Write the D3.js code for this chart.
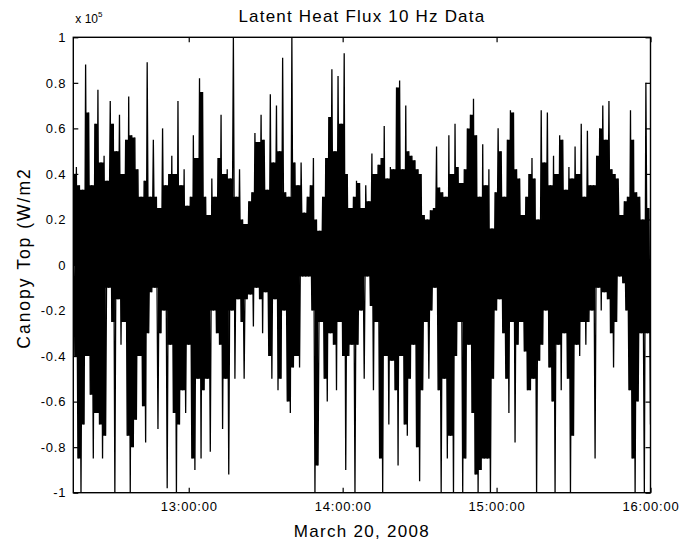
<!DOCTYPE html>
<html>
<head>
<meta charset="utf-8">
<script src="https://cdn.jsdelivr.net/npm/d3@7"></script>
<style>
  body { margin: 0; background: #fff; }
  svg { font-family: "Liberation Sans", Arial, sans-serif; }
</style>
</head>
<body>
<svg id="chart" width="683" height="546"></svg>
<script>
// Values, in units of 1e5 W/m2.
// One peak and one trough per 72 s step, starting 12:15:00.
var startTime = new Date(2008, 2, 20, 12, 15, 0);
var endTime = new Date(2008, 2, 20, 16, 0, 0);
var stepSeconds = 72;

var peakFlux = [
  0.40, 0.43, 0.35, 0.33, 0.88, 0.67, 0.35, 0.62, 0.77, 0.45,
  0.48, 0.37, 0.72, 0.62, 0.50, 0.66, 0.40, 0.55, 0.74, 0.57,
  0.56, 0.42, 0.30, 0.37, 0.89, 0.30, 0.55, 0.30, 0.25, 0.60,
  0.35, 0.40, 0.48, 0.40, 0.72, 0.35, 0.42, 0.26, 0.30, 0.57,
  0.47, 0.82, 0.76, 0.30, 0.22, 0.38, 0.30, 0.47, 0.66, 0.40,
  0.42, 0.38, 1.00, 0.30, 0.42, 0.20, 0.18, 0.28, 0.32, 0.58,
  0.54, 0.66, 0.55, 0.33, 0.75, 0.45, 0.70, 0.50, 0.91, 0.32,
  0.30, 1.00, 0.45, 0.35, 0.45, 0.23, 0.30, 0.35, 0.47, 0.20,
  0.15, 0.30, 0.47, 0.65, 0.86, 0.50, 0.83, 0.62, 0.93, 0.40,
  0.25, 0.30, 0.37, 0.36, 0.25, 0.35, 0.28, 0.49, 0.40, 0.44,
  0.47, 0.61, 0.38, 0.43, 0.42, 0.78, 0.81, 0.42, 0.70, 0.50,
  0.48, 0.46, 0.42, 0.40, 0.22, 0.20, 0.24, 0.25, 0.52, 0.34,
  0.32, 0.30, 0.57, 0.40, 0.62, 0.43, 0.36, 0.42, 0.60, 0.66,
  0.73, 0.57, 0.30, 0.53, 0.35, 0.42, 0.16, 0.32, 0.60, 0.50,
  0.30, 0.55, 0.68, 0.67, 0.42, 0.38, 0.22, 0.30, 0.40, 0.47,
  0.38, 0.20, 0.68, 0.45, 0.67, 0.35, 0.48, 0.40, 0.57, 0.55,
  0.33, 0.43, 0.38, 0.52, 0.40, 0.62, 0.30, 0.59, 0.35, 0.35,
  0.48, 0.60, 0.70, 0.55, 0.72, 0.42, 0.40, 0.38, 0.22, 0.28,
  0.30, 0.68, 0.55, 0.32, 0.30, 0.20, 0.80, 0.25
];

var troughFlux = [
  -0.40, -0.85, -1.00, -0.70, -0.40, -0.57, -0.85, -0.65, -0.70, -0.85,
  -0.75, -0.10, -0.25, -1.00, -0.15, -0.35, -0.25, -0.75, -1.00, -0.80,
  -0.68, -0.40, -0.62, -0.78, -0.30, -0.12, -0.10, -0.72, -0.30, -0.20,
  -0.98, -0.35, -0.65, -1.00, -0.70, -0.55, -0.65, -0.35, -0.85, -0.90,
  -0.50, -0.85, -0.55, -0.50, -0.82, -0.20, -0.30, -0.35, -0.72, -0.50,
  -0.92, -0.20, -0.50, -0.15, -0.25, -0.50, -0.15, -0.13, -0.27, -0.10,
  -0.15, -0.30, -0.12, -0.40, -0.50, -0.15, -0.55, -0.50, -0.20, -0.60,
  -0.65, -0.45, -0.40, -0.45, -0.05, -0.05, -0.05, -0.20, -1.00, -0.88,
  -0.25, -0.50, -0.60, -0.30, -0.35, -0.55, -0.25, -0.40, -0.90, -0.40,
  -0.35, -1.00, -0.35, -0.20, -0.50, -0.05, -0.18, -0.55, -0.25, -0.85,
  -1.00, -0.40, -0.70, -0.42, -0.55, -0.88, -0.40, -0.70, -0.75, -0.50,
  -0.35, -0.80, -0.95, -0.55, -0.25, -0.50, -0.20, -0.10, -0.55, -1.00,
  -0.50, -0.85, -0.75, -1.00, -0.40, -0.25, -1.00, -0.85, -0.35, -0.65,
  -0.92, -1.00, -0.90, -0.85, -0.85, -1.00, -0.50, -0.20, -0.15, -0.30,
  -0.50, -0.65, -0.25, -0.78, -0.35, -0.25, -0.38, -0.55, -0.55, -0.50,
  -1.00, -0.42, -0.35, -0.20, -0.45, -0.60, -1.00, -0.35, -0.55, -0.30,
  -0.50, -1.00, -0.75, -0.35, -0.40, -0.25, -0.35, -0.25, -0.20, -0.85,
  -0.10, -0.20, -0.12, -0.15, -0.30, -0.45, -0.25, -0.05, -0.08, -0.20,
  -0.55, -0.85, -1.00, -0.60, -0.30, -1.00, -0.30, -0.70
];

var xTickTimes = [
  new Date(2008, 2, 20, 13, 0, 0),
  new Date(2008, 2, 20, 14, 0, 0),
  new Date(2008, 2, 20, 15, 0, 0),
  new Date(2008, 2, 20, 16, 0, 0)
];
var yTickValues = [-1, -0.8, -0.6, -0.4, -0.2, 0, 0.2, 0.4, 0.6, 0.8, 1];

var titleText = "Latent Heat Flux 10 Hz Data";
var xLabelText = "March 20, 2008";
var yLabelText = "Canopy Top (W/m2";

var stepMs = stepSeconds * 1000;

// peak then trough every step
var samples = [];
peakFlux.forEach(function(v, i) {
  var t = startTime.getTime() + i * stepMs;
  samples.push({ t: new Date(t), v: v });
  samples.push({ t: new Date(t + stepMs / 2), v: troughFlux[i] });
});

// the dense 10 Hz trace fills in solid between neighbouring swings
var upperBody = peakFlux.map(function(v, i) {
  var next = i + 1 < peakFlux.length ? peakFlux[i + 1] : v;
  return { t: new Date(startTime.getTime() + i * stepMs), v: Math.min(v, next) };
});
var lowerBody = troughFlux.map(function(v, i) {
  var next = i + 1 < troughFlux.length ? troughFlux[i + 1] : v;
  return { t: new Date(startTime.getTime() + i * stepMs + stepMs / 2), v: Math.max(v, next) };
});

var margin = { top: 37.3, right: 32.5, bottom: 53.3, left: 73.3 },
    width = 683 - margin.left - margin.right,
    height = 546 - margin.top - margin.bottom;

var svg = d3.select("#chart");
var g = svg.append("g")
    .attr("transform", "translate(" + margin.left + "," + margin.top + ")");

var x = d3.scaleTime().domain([startTime, endTime]).range([0, width]);
var y = d3.scaleLinear().domain([-1, 1]).range([height, 0]);

g.append("clipPath").attr("id", "plotClip")
  .append("rect").attr("width", width).attr("height", height);

var plot = g.append("g").attr("clip-path", "url(#plotClip)");

var bodyArea = d3.area()
    .curve(d3.curveStepAfter)
    .x(function(d) { return x(d.t); })
    .y0(y(0))
    .y1(function(d) { return y(d.v); });

plot.append("path").datum(upperBody).attr("fill", "#000").attr("d", bodyArea);
plot.append("path").datum(lowerBody).attr("fill", "#000").attr("d", bodyArea);

var line = d3.line()
    .x(function(d) { return x(d.t); })
    .y(function(d) { return y(d.v); });

plot.append("path")
    .datum(samples)
    .attr("fill", "none")
    .attr("stroke", "#000")
    .attr("stroke-width", 1.3)
    .attr("stroke-linejoin", "miter")
    .attr("d", line);

// axes, ticks pointing inwards like the original
var fmtTime = d3.timeFormat("%H:%M:%S");
var xBottom = g.append("g")
    .attr("transform", "translate(0," + height + ")")
    .call(d3.axisBottom(x).tickValues(xTickTimes).tickFormat(fmtTime)
      .tickSizeInner(-5).tickSizeOuter(0).tickPadding(9));
var xTop = g.append("g")
    .call(d3.axisTop(x).tickValues(xTickTimes).tickFormat("")
      .tickSizeInner(-5).tickSizeOuter(0));
var yLeft = g.append("g")
    .call(d3.axisLeft(y).tickValues(yTickValues)
      .tickFormat(function(d) { return String(d); })
      .tickSizeInner(-5).tickSizeOuter(0).tickPadding(7));
var yRight = g.append("g")
    .attr("transform", "translate(" + width + ",0)")
    .call(d3.axisRight(y).tickValues(yTickValues).tickFormat("")
      .tickSizeInner(-5).tickSizeOuter(0));

[xBottom, xTop, yLeft, yRight].forEach(function(a) {
  a.select(".domain").remove();
  a.selectAll("line").attr("stroke", "#000").attr("stroke-width", 1.2);
  a.selectAll("text").attr("fill", "#000")
    .style("font-size", "13px").style("letter-spacing", "0.8px");
});

g.append("rect")
    .attr("width", width)
    .attr("height", height)
    .attr("fill", "none")
    .attr("stroke", "#000")
    .attr("stroke-width", 1.4);

// exponent label
var expo = svg.append("text")
    .attr("x", margin.left + 2)
    .attr("y", 23)
    .style("font-size", "12px");
expo.append("tspan").text("x 10");
expo.append("tspan").attr("dy", -6).style("font-size", "8px").text("5");

svg.append("text")
    .attr("x", margin.left + width / 2)
    .attr("y", 22)
    .attr("text-anchor", "middle")
    .style("font-size", "17px")
    .style("letter-spacing", "1.2px")
    .text(titleText);

svg.append("text")
    .attr("x", margin.left + width / 2)
    .attr("y", 537)
    .attr("text-anchor", "middle")
    .style("font-size", "17px")
    .style("letter-spacing", "1.3px")
    .text(xLabelText);

svg.append("text")
    .attr("transform", "translate(30," + (margin.top + height / 2 - 7) + ") rotate(-90)")
    .attr("text-anchor", "middle")
    .style("font-size", "17.5px")
    .style("letter-spacing", "2px")
    .text(yLabelText);
</script>
</body>
</html>
